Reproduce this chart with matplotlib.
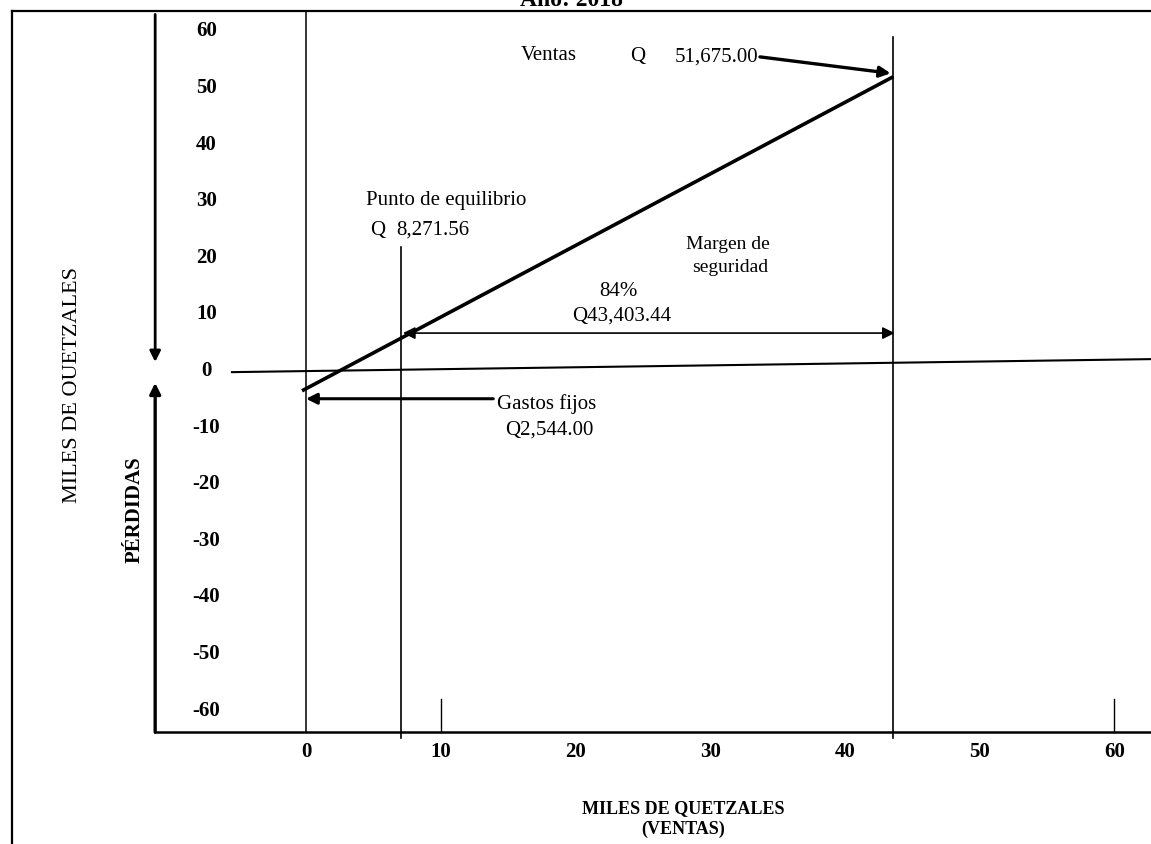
import matplotlib
matplotlib.use("Agg")
import matplotlib.pyplot as plt
from matplotlib.patches import Rectangle

# ---------------- data ----------------
title = "Año: 2018"
y_tick_values = [60, 50, 40, 30, 20, 10, 0, -10, -20, -30, -40, -50, -60]
x_tick_values = [0, 10, 20, 30, 40, 50, 60]
x_minor_marks = [10, 60]

sales_line_x = [-0.3, 43.6]
sales_line_y = [-3.5, 52.0]

zero_line_x = [-5.5, 62.73]
zero_line_y = [-0.2, 2.1]

breakeven_x = 7.05
breakeven_top = 21.9
sales_x = 43.6
sales_top = 59.0

axis_bottom = -63.8
axis_top = 63.6
gain_arrow_end = 1.6
loss_arrow_end = -2.1
arrow_axis_x = -11.2

margin_arrow_y = 6.7
fixed_cost_arrow_y = -4.9
fixed_cost_arrow_x = [13.9, 0.0]
sales_arrow_from = (33.7, 55.5)
sales_arrow_to = (43.4, 52.6)

sales_label = "Ventas"
sales_value = "51,675.00"
breakeven_label = "Punto de equilibrio"
breakeven_value = "8,271.56"
margin_label = ["Margen de", "seguridad"]
margin_pct = "84%"
margin_value = "Q43,403.44"
fixed_label = "Gastos fijos"
fixed_value = "Q2,544.00"
y_label = "MILES DE QUETZALES"
loss_label = "PÉRDIDAS"
x_label = "MILES DE QUETZALES\n(VENTAS)"

# ---------------- figure ----------------
plt.rcParams["font.family"] = ["Liberation Serif", "DejaVu Serif"]
W, H = 1151, 844
fig = plt.figure(figsize=(W / 100, H / 100), dpi=100)
ax = fig.add_axes([0, 0, 1, 1])
ax.set_xlim(-22.72, 62.73)
ax.set_ylim(-83.57, 65.55)
ax.axis("off")

k = "black"

# outer frame (top and left)
ax.plot([12 / W, 1], [1 - 11 / H, 1 - 11 / H], transform=ax.transAxes, color=k, lw=1.6)
ax.plot([12 / W, 12 / W], [0, 1 - 11 / H], transform=ax.transAxes, color=k, lw=1.6)

# y axis line (x = 0) and bottom axis line
ax.plot([0, 0], [axis_top, axis_bottom], color=k, lw=1.1)
ax.plot([arrow_axis_x, 62.73], [axis_bottom, axis_bottom], color=k, lw=1.8)

# zero line
ax.plot(zero_line_x, zero_line_y, color=k, lw=1.5)

# vertical reference lines
ax.plot([breakeven_x, breakeven_x], [breakeven_top, -64.8], color=k, lw=1.2)
ax.plot([sales_x, sales_x], [sales_top, -64.8], color=k, lw=1.2)

# small tick marks
for xm in x_minor_marks:
    ax.plot([xm, xm], [axis_bottom, -58.0], color=k, lw=1.0)

# sales line
ax.plot(sales_line_x, sales_line_y, color=k, lw=2.6, solid_capstyle="butt")

# arrows
def arrow(p0, p1, style="-|>", lw=1.5, ms=16):
    ax.annotate("", xy=p1, xytext=p0,
                arrowprops=dict(arrowstyle=style, color=k, lw=lw,
                                mutation_scale=ms, shrinkA=0, shrinkB=0))

arrow((arrow_axis_x, 63.0), (arrow_axis_x, gain_arrow_end), lw=2.0)
arrow((arrow_axis_x, axis_bottom), (arrow_axis_x, loss_arrow_end), lw=2.4)
arrow((7.2, margin_arrow_y), (43.7, margin_arrow_y), style="<|-|>", lw=1.2, ms=18)
arrow((fixed_cost_arrow_x[0], fixed_cost_arrow_y), (fixed_cost_arrow_x[1], fixed_cost_arrow_y), lw=2.2)
arrow(sales_arrow_from, sales_arrow_to, lw=2.4)

# tick labels
for v in y_tick_values:
    ax.text(-7.4, v, str(v), ha="center", va="center", fontsize=15, fontweight="bold")
for v in x_tick_values:
    ax.text(v, -67.3, str(v), ha="center", va="center", fontsize=15, fontweight="bold")

# annotations
fs = 15
ax.text(18.0, 55.8, sales_label, ha="center", va="center", fontsize=fs)
ax.text(24.6, 55.5, "Q", ha="center", va="center", fontsize=fs)
ax.text(33.6, 55.5, sales_value, ha="right", va="center", fontsize=fs)
ax.text(4.45, 30.2, breakeven_label, ha="left", va="center", fontsize=fs)
ax.text(5.35, 24.9, "Q", ha="center", va="center", fontsize=fs)
ax.text(6.7, 24.9, breakeven_value, ha="left", va="center", fontsize=fs)
ax.text(28.2, 22.3, margin_label[0], ha="left", va="center", fontsize=14)
ax.text(28.7, 18.2, margin_label[1], ha="left", va="center", fontsize=14)
ax.text(23.2, 14.0, margin_pct, ha="center", va="center", fontsize=fs)
ax.text(23.4, 9.7, margin_value, ha="center", va="center", fontsize=fs)
ax.text(14.2, -5.8, fixed_label, ha="left", va="center", fontsize=fs)
ax.text(14.8, -10.4, fixed_value, ha="left", va="center", fontsize=fs)

# rotated labels
ax.text(135 / W, 1 - 510 / H, loss_label, transform=ax.transAxes, rotation=90,
        ha="center", va="center", fontsize=15, fontweight="bold")
fig.text(72 / W, 1 - 385 / H, y_label, rotation=90, ha="center", va="center", fontsize=16)
# the scanned page cuts off the baseline side of this label
fig.add_artist(Rectangle((76 / W, 1 - 515 / H), 12 / W, 260 / H,
                         transform=fig.transFigure, facecolor="white",
                         edgecolor="none", zorder=10))

# x label
ax.text(683 / W, 1 - 819 / H, x_label, transform=ax.transAxes, ha="center", va="center",
        fontsize=13, fontweight="bold", linespacing=1.25)

# clipped title at very top
fig.text(571 / W, 1 - 6 / H, title, ha="center", va="baseline", fontsize=17, fontweight="bold")

fig.savefig("out.png", dpi=100)
